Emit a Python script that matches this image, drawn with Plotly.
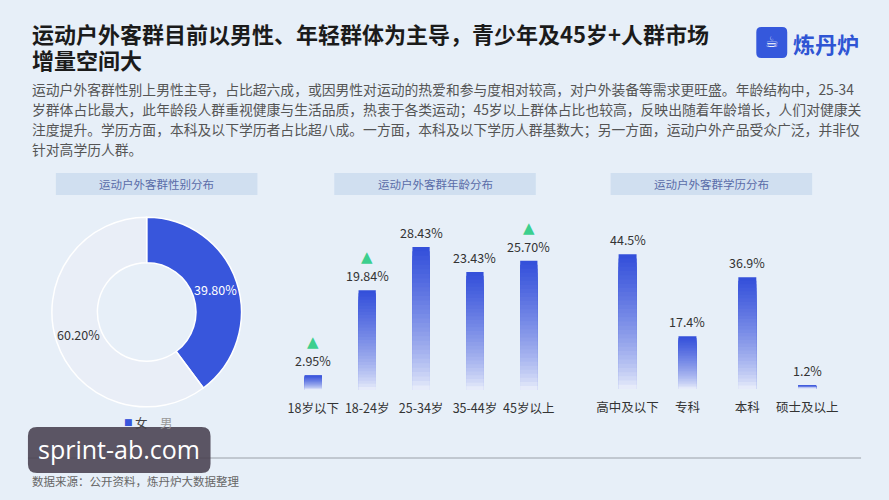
import math
import plotly.graph_objects as go

# ---------------- data ----------------
title_lines = ["运动户外客群目前以男性、年轻群体为主导，青少年及45岁+人群市场", "增量空间大"]
para_lines = [
    "运动户外客群性别上男性主导，占比超六成，或因男性对运动的热爱和参与度相对较高，对户外装备等需求更旺盛。年龄结构中，25-34",
    "岁群体占比最大，此年龄段人群重视健康与生活品质，热衷于各类运动；45岁以上群体占比也较高，反映出随着年龄增长，人们对健康关",
    "注度提升。学历方面，本科及以下学历者占比超八成。一方面，本科及以下学历人群基数大；另一方面，运动户外产品受众广泛，并非仅",
    "针对高学历人群。",
]
panel_titles = ["运动户外客群性别分布", "运动户外客群年龄分布", "运动户外客群学历分布"]

gender_labels = ["女", "男"]
gender_values = [39.80, 60.20]

age_cats = ["18岁以下", "18-24岁", "25-34岁", "35-44岁", "45岁以上"]
age_values = [2.95, 19.84, 28.43, 23.43, 25.70]
age_up = [True, True, False, False, True]

edu_cats = ["高中及以下", "专科", "本科", "硕士及以上"]
edu_values = [44.5, 17.4, 36.9, 1.2]

source_text = "数据来源：公开资料，炼丹炉大数据整理"
logo_text = "炼丹炉"
watermark = "sprint-ab.com"

# ---------------- styling helpers ----------------
W, H = 889, 500
FONT = "Noto Sans CJK SC"
BLUE = (50, 78, 218)
LIGHT = (240, 244, 252)


def px(x):
    return x / W


def py(y):
    return 1 - y / H


def mix(t):
    r = [round(LIGHT[i] + (BLUE[i] - LIGHT[i]) * t) for i in range(3)]
    return f"rgb({r[0]},{r[1]},{r[2]})"


fig = go.Figure()

# ---- donut ----
PIE_CX, PIE_CY, PIE_R, HOLE = 146, 312, 95, 0.52
fig.add_trace(go.Pie(
    labels=gender_labels, values=gender_values, textinfo="none",
    marker=dict(colors=["rgb(56,86,220)", "#e9eef7"], line=dict(color="white", width=1.5)),
    hole=HOLE, sort=False, direction="clockwise", rotation=0,
    domain=dict(x=[px(PIE_CX - PIE_R), px(PIE_CX + PIE_R)], y=[py(PIE_CY + PIE_R), py(PIE_CY - PIE_R)]),
    showlegend=False, hoverinfo="label+value",
))

# ---- gradient bars (nested bars, tallest first, no seams) ----
N = 32


def add_grad_bars(cats, vals, xa, ya, width):
    for k in range(N - 1, -1, -1):
        t = (k + 0.5) / N
        fig.add_trace(go.Bar(
            x=cats, y=[v * (k + 1) / N for v in vals],
            marker=dict(color=mix(t ** 0.7), line=dict(width=0)),
            width=width, xaxis=xa, yaxis=ya, showlegend=False, hoverinfo="skip",
        ))


add_grad_bars(age_cats, age_values, "x", "y", 0.32)
add_grad_bars(edu_cats, edu_values, "x2", "y2", 0.30)

axis_common = dict(showgrid=False, zeroline=False, showline=False, ticklabelstandoff=9,
                   tickfont=dict(family=FONT, size=12.5, color="#333333"), ticks="")
fig.update_layout(
    xaxis=dict(domain=[px(286), px(556)], anchor="y", **axis_common),
    yaxis=dict(domain=[py(390), py(239)], range=[0, 30], visible=False, anchor="x"),
    xaxis2=dict(domain=[px(598), px(838)], anchor="y2", **axis_common),
    yaxis2=dict(domain=[py(389), py(237.5)], range=[0, 50], visible=False, anchor="x2"),
    barmode="overlay",
)

ann = []


def paper_text(x, y, text, size, color, family=FONT, xanchor="center", align="center"):
    ann.append(dict(x=px(x), y=py(y), xref="paper", yref="paper", xanchor=xanchor, yanchor="middle",
                    align=align, text=text, showarrow=False, font=dict(family=family, size=size, color=color)))


# pie labels at slice mid-angles
total = sum(gender_values)
cum = 0
r_mid = PIE_R * (1 + HOLE) / 2
for v, col in zip(gender_values, ["white", "#333333"]):
    a = 2 * math.pi * (cum + v / 2) / total
    cum += v
    paper_text(PIE_CX + r_mid * math.sin(a), PIE_CY - r_mid * math.cos(a), f"{v:.2f}%", 12.5, col)

# value labels
for c, v, up in zip(age_cats, age_values, age_up):
    ann.append(dict(x=c, y=v, xref="x", yref="y", text=f"{v:.2f}%", showarrow=False,
                    xanchor="center", yanchor="bottom", yshift=3, font=dict(family=FONT, size=12.5, color="#333")))
    if up:
        ann.append(dict(x=c, y=v, xref="x", yref="y", text="▲", showarrow=False, borderpad=0,
                        xanchor="center", yanchor="bottom", yshift=23, font=dict(family="DejaVu Sans", size=15, color="#3ccf8e")))
for c, v in zip(edu_cats, edu_values):
    ann.append(dict(x=c, y=v, xref="x2", yref="y2", text=f"{v:.1f}%", showarrow=False,
                    xanchor="center", yanchor="bottom", yshift=3, font=dict(family=FONT, size=12.5, color="#333")))

# titles
paper_text(29, 33, f"<b>{title_lines[0]}</b>", 22, "#1b1b1b", xanchor="left", align="left")
paper_text(29, 59, f"<b>{title_lines[1]}</b>", 22, "#1b1b1b", xanchor="left", align="left")
for i, line in enumerate(para_lines):
    paper_text(29, 89 + 20 * i, line, 13.8, "#555555", xanchor="left")

# panel titles
panel_centers = [156, 435, 712]
for cx, t in zip(panel_centers, panel_titles):
    paper_text(cx, 184, t, 11.5, "#5a6ca8")

# pie legend
paper_text(128, 422, "■", 9, "rgb(56,86,220)", family="DejaVu Sans")
paper_text(141, 422, gender_labels[0], 12.5, "#444")
paper_text(166, 422, gender_labels[1], 12.5, "#999")

# logo
paper_text(792, 43, f"<b>{logo_text}</b>", 22, "#2f55d4", xanchor="left")
paper_text(772, 42, "☕", 15, "white", family="DejaVu Sans")

# source + watermark
paper_text(29, 481, source_text, 11.5, "#666", xanchor="left")
paper_text(118, 449, watermark, 25, "white", family="Open Sans")


def rpath(x0, y0, x1, y1, r):
    X = lambda v: f"{px(v):.5f}"
    Y = lambda v: f"{py(v):.5f}"
    return (f"M {X(x0+r)},{Y(y0)} L {X(x1-r)},{Y(y0)} Q {X(x1)},{Y(y0)} {X(x1)},{Y(y0+r)} "
            f"L {X(x1)},{Y(y1-r)} Q {X(x1)},{Y(y1)} {X(x1-r)},{Y(y1)} L {X(x0+r)},{Y(y1)} "
            f"Q {X(x0)},{Y(y1)} {X(x0)},{Y(y1-r)} L {X(x0)},{Y(y0+r)} Q {X(x0)},{Y(y0)} {X(x0+r)},{Y(y0)} Z")


shapes = []
for cx in panel_centers:
    shapes.append(dict(type="rect", xref="paper", yref="paper", x0=px(cx - 101), x1=px(cx + 101),
                       y0=py(195), y1=py(173), line=dict(width=0), fillcolor="rgba(200,218,238,0.75)", layer="below"))
shapes.append(dict(type="line", xref="paper", yref="paper", x0=px(27), x1=px(862), y0=py(458), y1=py(458),
                   line=dict(color="#9aa0a8", width=1)))
shapes.append(dict(type="path", xref="paper", yref="paper", path=rpath(27, 427, 210, 473, 9),
                   fillcolor="rgba(72,64,78,0.88)", line=dict(width=0)))
shapes.append(dict(type="path", xref="paper", yref="paper", path=rpath(757, 27, 788, 58, 5),
                   fillcolor="#3558dc", line=dict(width=0), layer="below"))

fig.update_layout(
    width=W, height=H, margin=dict(l=0, r=0, t=0, b=0),
    paper_bgcolor="#e7eff8", plot_bgcolor="rgba(0,0,0,0)",
    annotations=ann, shapes=shapes, showlegend=False,
)

fig.write_html("out.html")
